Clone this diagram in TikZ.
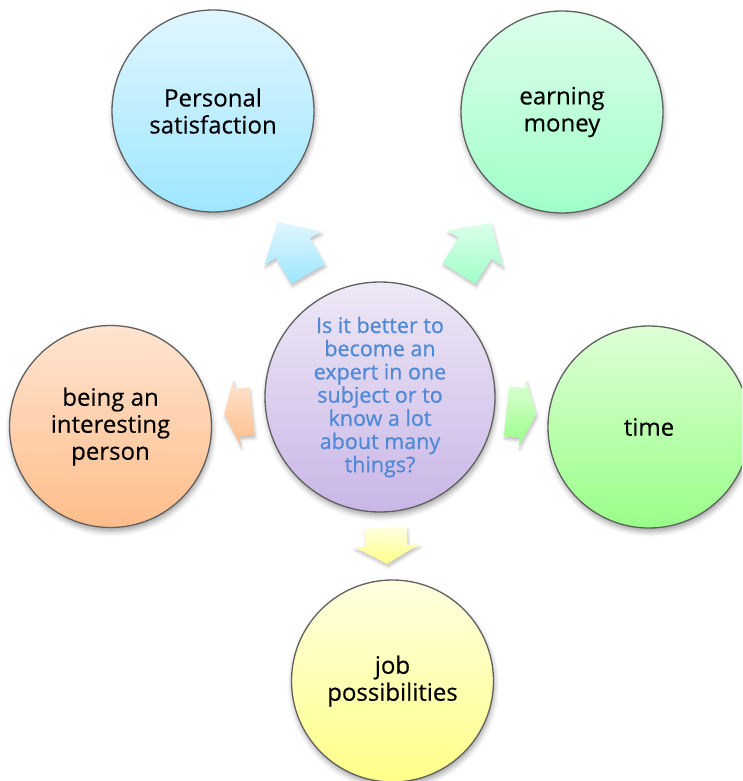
\documentclass[tikz,border=0pt]{standalone}
\usepackage{fontspec}
\setmainfont[FakeBold=0.35]{Open Sans}
\newfontfamily\hubfont[FakeBold=0.8]{Open Sans}
\usetikzlibrary{calc,shadows.blur}

\definecolor{bordergray}{RGB}{96,96,96}
\definecolor{hubtext}{RGB}{80,138,214}
\definecolor{satTop}{RGB}{224,246,255}
\definecolor{satBot}{RGB}{158,230,255}
\definecolor{monTop}{RGB}{220,255,234}
\definecolor{monBot}{RGB}{160,255,200}
\definecolor{intTop}{RGB}{255,228,208}
\definecolor{intBot}{RGB}{255,189,138}
\definecolor{timTop}{RGB}{222,255,214}
\definecolor{timBot}{RGB}{153,255,136}
\definecolor{jobTop}{RGB}{255,255,224}
\definecolor{jobBot}{RGB}{255,255,136}
\definecolor{hubTop}{RGB}{238,232,246}
\definecolor{hubBot}{RGB}{201,182,230}

\tikzset{
  bubble/.style={circle, draw=bordergray, line width=1.3pt, minimum size=202pt,
    inner sep=0pt, align=center, font=\fontsize{24}{27}\selectfont, text=black,
    blur shadow={shadow xshift=1pt, shadow yshift=-4pt, shadow blur radius=5pt,
    shadow opacity=35}},
  hub/.style={bubble, minimum size=230pt, font=\hubfont\fontsize{21.5}{23.2}\selectfont, text=hubtext},
  satfill/.style={top color=satTop, bottom color=satBot},
  monfill/.style={top color=monTop, bottom color=monBot},
  intfill/.style={top color=intTop, bottom color=intBot},
  timfill/.style={top color=timTop, bottom color=timBot},
  jobfill/.style={top color=jobTop, bottom color=jobBot},
  hubfill/.style={top color=hubTop, bottom color=hubBot},
  blockarr/.style={draw=none, blur shadow={shadow xshift=1pt, shadow yshift=-3pt,
    shadow blur radius=3pt, shadow opacity=25}},
}

% #1 from, #2 to, #3 distance from #1, #4 half length, #5 shaft half width,
% #6 head half width, #7 head base offset, #8 fill style, #9 coordinate name
\newcommand\bkarrow[9]{%
  \path coordinate (#9) at ($(#1)!#3!(#2)$);
  \shade[blockarr, #8] let \p1=($(#2)-(#1)$), \n1={atan2(\y1,\x1)} in
    ($(#9)+(\n1+180:#4)+(\n1+90:#5)$) --
    ($(#9)+(\n1:#7)+(\n1+90:#5)$) --
    ($(#9)+(\n1:#7)+(\n1+90:#6)$) --
    ($(#9)+(\n1:#4)$) --
    ($(#9)+(\n1:#7)+(\n1-90:#6)$) --
    ($(#9)+(\n1:#7)+(\n1-90:#5)$) --
    ($(#9)+(\n1+180:#4)+(\n1-90:#5)$) -- cycle;
}

\begin{document}
\begin{tikzpicture}[x=1pt,y=-1pt]
  \useasboundingbox (0,0) rectangle (742,781);
  \clip (0,0) rectangle (742,781);

  \node[bubble, satfill] (s) at (213,111) {Personal\\satisfaction};
  \node[bubble, monfill] (e) at (562,112) {earning\\money};
  \node[bubble, intfill] (b) at (110.5,426.5) {being an\\interesting\\person};
  \node[bubble, timfill] (t) at (649,427) {time};
  \node[bubble, jobfill] (j) at (392.5,681) {job\\possibilities};
  \node[hub, hubfill] (c) at (380,397) {Is it better to\\become an\\expert in one\\subject or to\\know a lot\\about many\\things?};

  \bkarrow{c}{s}{172.5pt}{30pt}{19.5pt}{33pt}{0pt}{satfill}{as}
  \bkarrow{c}{e}{176.5pt}{30pt}{19.5pt}{33pt}{0pt}{monfill}{ae}
  \bkarrow{c}{b}{142.8pt}{14pt}{24pt}{33pt}{1pt}{intfill}{ab}
  \bkarrow{c}{t}{142.4pt}{15pt}{25pt}{33.5pt}{1pt}{timfill}{at}
  \bkarrow{c}{j}{149pt}{18pt}{21pt}{32.5pt}{0pt}{jobfill}{aj}
\end{tikzpicture}
\end{document}
